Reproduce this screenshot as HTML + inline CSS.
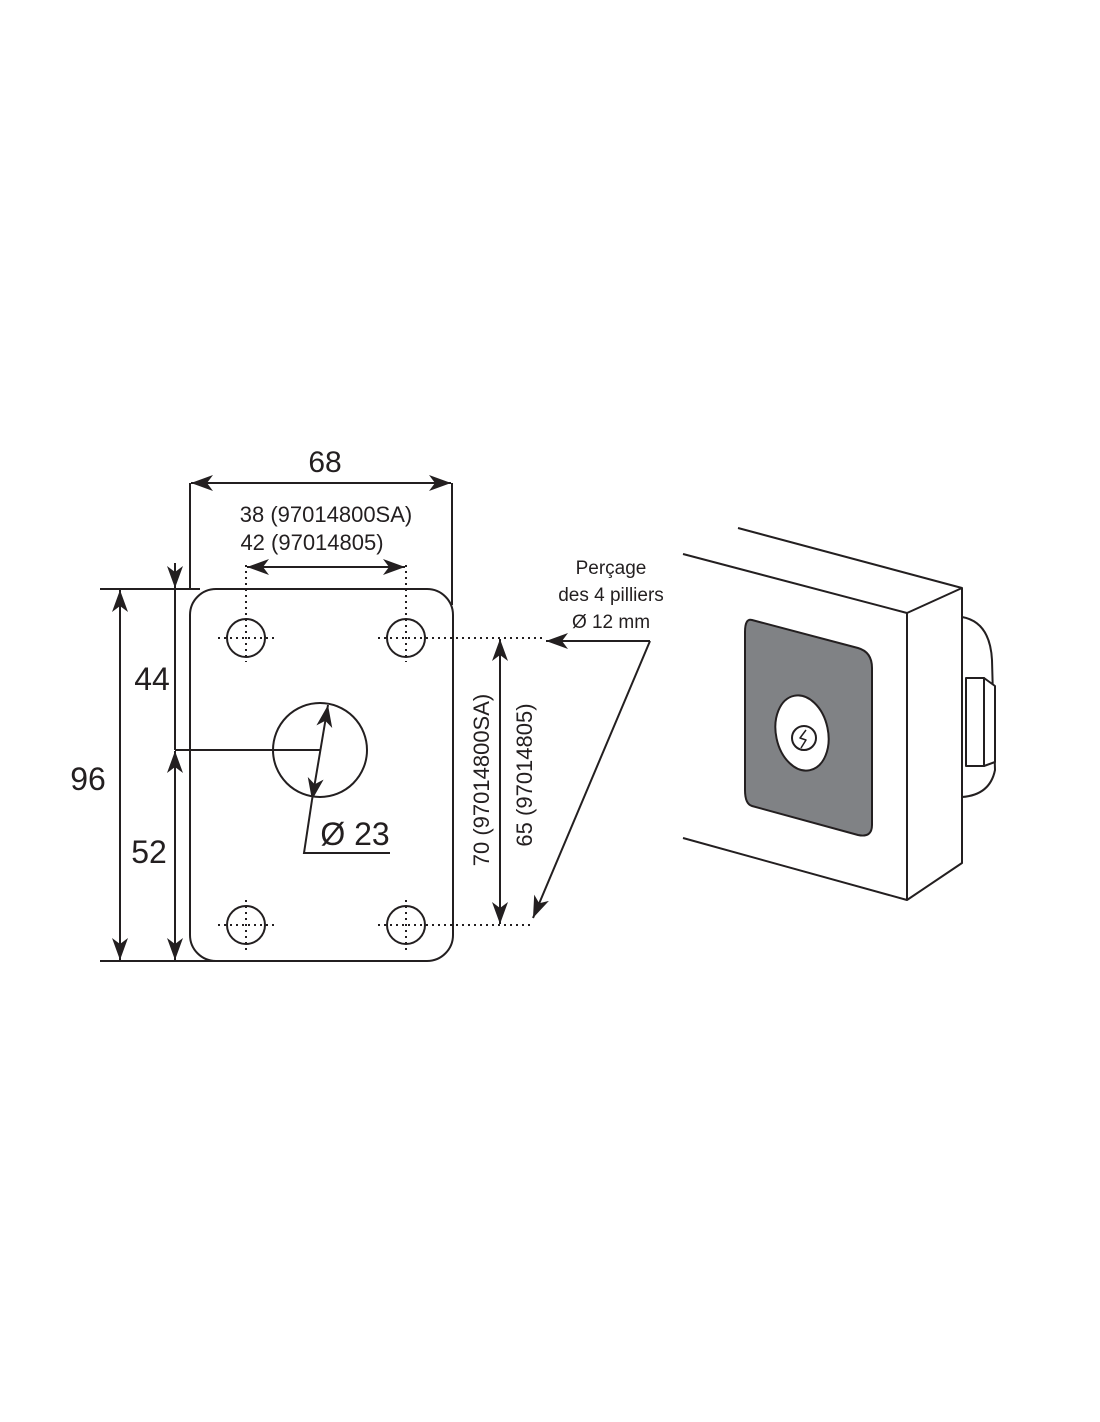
<!DOCTYPE html>
<html><head><meta charset="utf-8"><style>
html,body{margin:0;padding:0;background:#fff;}
svg{display:block;}
text{font-family:"Liberation Sans",sans-serif;fill:#231f20;}
</style></head><body>
<svg width="1100" height="1422" viewBox="0 0 1100 1422" xmlns="http://www.w3.org/2000/svg">
<defs>
<marker id="a" viewBox="0 0 22 16" refX="22" refY="8" markerWidth="22" markerHeight="16" markerUnits="userSpaceOnUse" orient="auto-start-reverse">
<path d="M0,0 L22,8 L0,16 L6,8 Z" fill="#231f20"/></marker>
</defs>
<g stroke="#231f20" stroke-width="2" fill="none">
<rect x="190" y="589" width="263" height="372" rx="26" ry="26"/>
<circle cx="246" cy="638" r="19"/><circle cx="406" cy="638" r="19"/>
<circle cx="246" cy="925" r="19"/><circle cx="406" cy="925" r="19"/>
<circle cx="320" cy="750" r="47"/>
</g>
<g stroke="#231f20" stroke-width="2" fill="none" stroke-dasharray="2,4">
<line x1="218" y1="638" x2="275" y2="638"/><line x1="378" y1="638" x2="545" y2="638"/>
<line x1="218" y1="925" x2="275" y2="925"/><line x1="378" y1="925" x2="532" y2="925"/>
<line x1="246" y1="565" x2="246" y2="662"/><line x1="406" y1="565" x2="406" y2="662"/>
<line x1="246" y1="900" x2="246" y2="950"/><line x1="406" y1="900" x2="406" y2="950"/>
</g>
<g stroke="#231f20" stroke-width="2" fill="none">
<line x1="190" y1="483" x2="190" y2="589"/><line x1="452" y1="483" x2="452" y2="605"/>
<line x1="191" y1="483" x2="451" y2="483" marker-start="url(#a)" marker-end="url(#a)"/>
<line x1="247" y1="567" x2="405" y2="567" marker-start="url(#a)" marker-end="url(#a)"/>
<line x1="100" y1="589" x2="200" y2="589"/><line x1="100" y1="961" x2="222" y2="961"/>
<line x1="120" y1="590" x2="120" y2="960" marker-start="url(#a)" marker-end="url(#a)"/>
<line x1="175" y1="563" x2="175" y2="588" marker-end="url(#a)"/>
<line x1="175" y1="589" x2="175" y2="750"/>
<line x1="175" y1="750" x2="320" y2="750"/>
<line x1="175" y1="751" x2="175" y2="960" marker-start="url(#a)" marker-end="url(#a)"/>
<line x1="328" y1="705" x2="312" y2="800" marker-start="url(#a)" marker-end="url(#a)"/>
<polyline points="312,800 304,853 390,853"/>
<line x1="500" y1="639" x2="500" y2="924" marker-start="url(#a)" marker-end="url(#a)"/>
<polyline points="650,641 546,641" marker-end="url(#a)"/>
<line x1="650" y1="641" x2="533" y2="918" marker-end="url(#a)"/>
</g>
<text x="325" y="472" font-size="30" text-anchor="middle">68</text>
<text x="326" y="522" font-size="22" text-anchor="middle">38 (97014800SA)</text>
<text x="312" y="550" font-size="22" text-anchor="middle">42 (97014805)</text>
<text x="88" y="790" font-size="32" text-anchor="middle">96</text>
<text x="152" y="690" font-size="32" text-anchor="middle">44</text>
<text x="149" y="863" font-size="32" text-anchor="middle">52</text>
<text x="355" y="845" font-size="32" text-anchor="middle">Ø 23</text>
<text transform="translate(489,780) rotate(-90)" font-size="22" text-anchor="middle">70 (97014800SA)</text>
<text transform="translate(532,775) rotate(-90)" font-size="22" text-anchor="middle">65 (97014805)</text>
<text x="611" y="574" font-size="19" text-anchor="middle">Perçage</text>
<text x="611" y="601" font-size="19" text-anchor="middle">des 4 pilliers</text>
<text x="611" y="628" font-size="19" text-anchor="middle">Ø 12 mm</text>
<g stroke="#231f20" stroke-width="2" fill="none" stroke-linejoin="round">
<path d="M962,617 Q990,622 992,660 L995,770 Q990,795 962,797" fill="#fff"/>
<rect x="966" y="678" width="18" height="88" fill="#fff"/>
<polygon points="984,678 995,686 995,762 984,766" fill="#fff"/>
<line x1="738" y1="528" x2="962" y2="588"/>
<line x1="683" y1="554" x2="907" y2="613"/>
<line x1="683" y1="838" x2="907" y2="900"/>
<polygon points="907,613 962,588 962,863 907,900" fill="#fff"/>
<path d="M752,620 L858,648 Q872,652 872,668 L872,825 Q872,838 858,835 L752,806 Q745,804 745,790 L745,632 Q745,618 752,620 Z" fill="#808285"/>
<ellipse cx="802" cy="733" rx="26" ry="38" transform="rotate(-12 802 733)" fill="#fff"/>
<circle cx="804" cy="738" r="12" fill="#fff"/>
<path d="M806,730 L800,738 L806,740 L801,748" stroke-width="1.5"/>
</g>
</svg>
</body></html>
